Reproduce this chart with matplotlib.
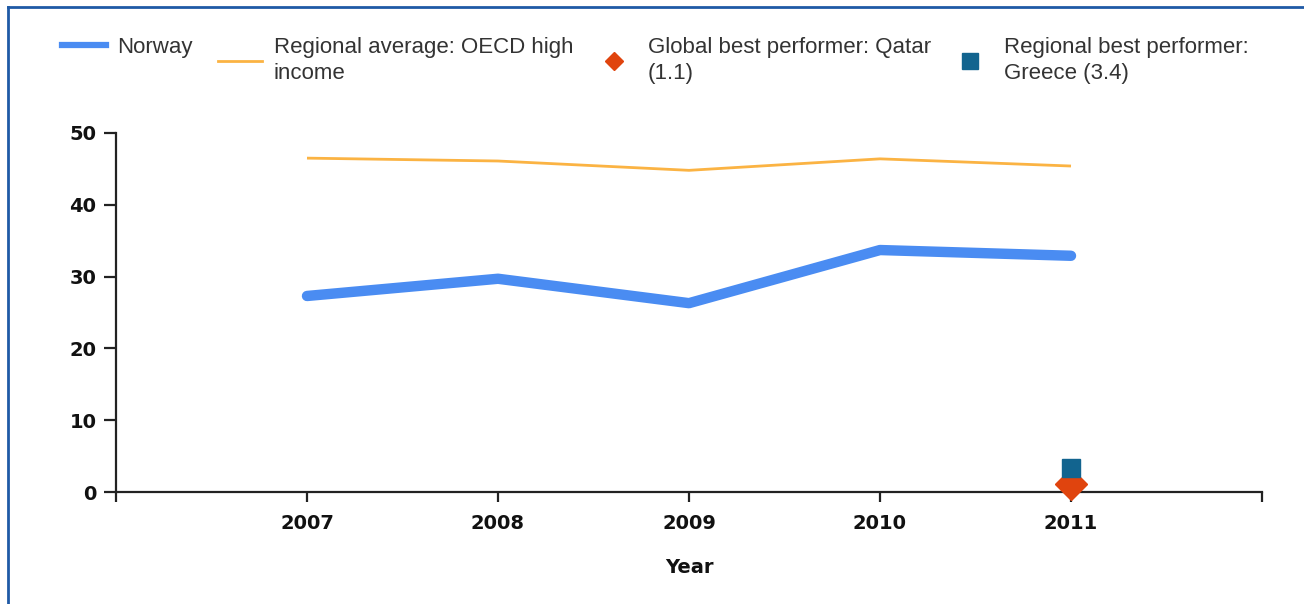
import matplotlib
matplotlib.use("Agg")
import matplotlib.pyplot as plt
from matplotlib.lines import Line2D

years = [2007, 2008, 2009, 2010, 2011]
norway = [27.3, 29.7, 26.3, 33.7, 32.9]
oecd = [46.5, 46.1, 44.8, 46.4, 45.4]
qatar_year = [2011]
qatar = [1.1]
greece_year = [2011]
greece = [3.4]
yticks = [0, 10, 20, 30, 40, 50]

labels = ["Norway", "Regional average: OECD high\nincome",
          "Global best performer: Qatar\n(1.1)", "Regional best performer:\nGreece (3.4)"]

c_nor = "#4a8cf2"
c_oecd = "#fbb343"
c_qat = "#e0440e"
c_gre = "#12648f"

fig = plt.figure(figsize=(13.04, 6.04), dpi=100)
ax = fig.add_axes([116/1304, 1-492/604, (1262-116)/1304, (492-133)/604])

ax.plot(years, oecd, color=c_oecd, lw=2.0, solid_capstyle="butt")
ax.plot(years, norway, color=c_nor, lw=7.5, solid_capstyle="round", solid_joinstyle="round")
ax.plot(qatar_year, qatar, ls="none", marker="D", ms=16, color=c_qat, clip_on=False, zorder=4)
ax.plot(greece_year, greece, ls="none", marker="s", ms=13, color=c_gre, clip_on=False, zorder=5)

ax.set_xlim(2006, 2012)
ax.set_ylim(0, 50)
ax.set_xticks(years)
ax.set_xticks([2006, 2012], minor=True)
ax.set_yticks(yticks)
for s in ["top", "right"]:
    ax.spines[s].set_visible(False)
for s in ["left", "bottom"]:
    ax.spines[s].set_linewidth(1.6)
    ax.spines[s].set_color("#222222")
ax.tick_params(axis="y", length=9, width=1.6, color="#222222", pad=5)
ax.tick_params(axis="x", which="both", length=7, width=1.6, color="#222222", pad=9)
for lab in ax.get_xticklabels() + ax.get_yticklabels():
    lab.set_fontweight("bold")
    lab.set_fontsize(14)
    lab.set_color("#111111")
ax.set_xlabel("Year", fontsize=14, fontweight="bold", color="#111111", labelpad=18)

handles = [
    Line2D([], [], color=c_nor, lw=4.5),
    Line2D([], [], color=c_oecd, lw=2.0),
    Line2D([], [], ls="none", marker="D", ms=9, color=c_qat),
    Line2D([], [], ls="none", marker="s", ms=11, color=c_gre),
]
lefts = [62, 218, 592, 948]
for h, lab, x in zip(handles, labels, lefts):
    leg = fig.legend([h], [lab], loc="upper left", bbox_to_anchor=(x/1304, 1-37/604),
                     frameon=False, borderpad=0, borderaxespad=0, handlelength=2.0,
                     handletextpad=0.5, prop={"family": "Liberation Sans", "size": 16})
    for t in leg.get_texts():
        t.set_color("#333333")
        t.set_linespacing(1.3)

# outer frame (top and left edges)
fig.add_artist(Line2D([8/1304, 1], [1-7/604, 1-7/604], color="#1f5aa6", lw=2, transform=fig.transFigure))
fig.add_artist(Line2D([8/1304, 8/1304], [0, 1-7/604], color="#1f5aa6", lw=2, transform=fig.transFigure))

fig.savefig("out.png", dpi=100)
